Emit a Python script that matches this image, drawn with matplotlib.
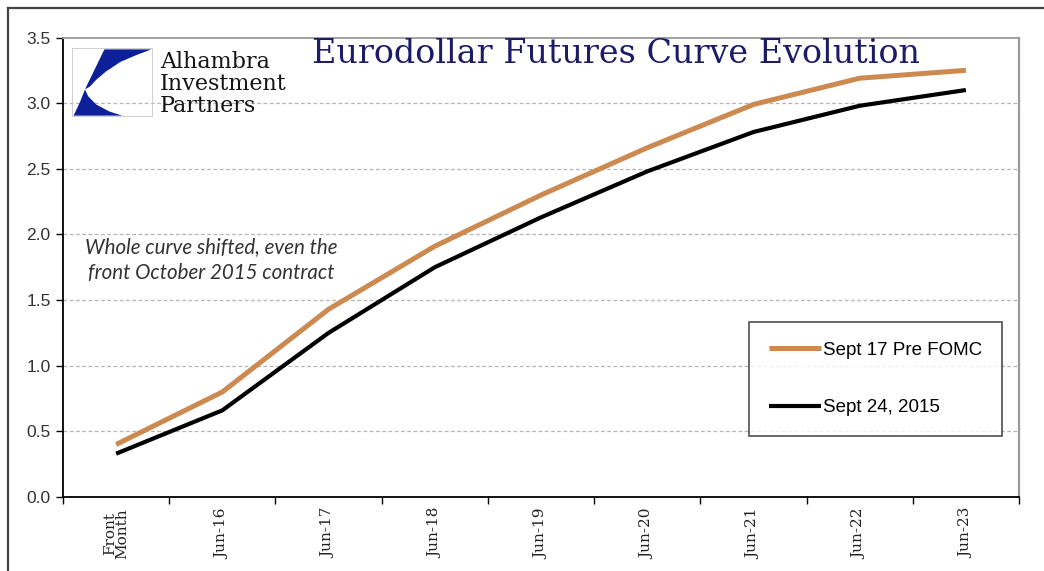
import numpy as np
import matplotlib
matplotlib.use("Agg")
import matplotlib.pyplot as plt
from matplotlib.lines import Line2D
from matplotlib.patches import Polygon, Rectangle

# Eurodollar futures implied rates (%) by contract
contracts = ["Front\nMonth", "Jun-16", "Jun-17", "Jun-18", "Jun-19",
             "Jun-20", "Jun-21", "Jun-22", "Jun-23"]
pre_fomc = [0.40, 0.80, 1.43, 1.91, 2.30, 2.66, 2.99, 3.19, 3.25]
sept_24 = [0.33, 0.66, 1.25, 1.75, 2.13, 2.48, 2.78, 2.98, 3.10]

ORANGE = "#cc8a50"
NAVY = "#1c1b68"

W, H = 1044, 571
fig = plt.figure(figsize=(W / 100, H / 100), dpi=100)
fig.patch.set_facecolor("white")


def px(x, y):
    """pixel position (from top-left) -> figure fraction"""
    return x / W, 1 - y / H


# outer frame (top and left edges only)
fig.add_artist(Line2D([8 / W, 1], [1 - 8 / H] * 2, color="#444444", lw=1.6))
fig.add_artist(Line2D([8 / W] * 2, [0, 1 - 8 / H], color="#444444", lw=1.6))

left, top = px(63, 37.5)
right, bottom = px(1019, 497)
ax = fig.add_axes([left, bottom, right - left, top - bottom])

x = np.arange(len(contracts))
ax.plot(x, pre_fomc, color=ORANGE, lw=3.6, label="Sept 17 Pre FOMC",
        solid_capstyle="butt", solid_joinstyle="miter")
ax.plot(x, sept_24, color="black", lw=3.0, label="Sept 24, 2015",
        solid_capstyle="butt", solid_joinstyle="miter")

ax.set_xlim(-0.5, len(contracts) - 0.5)
ax.set_ylim(0, 3.5)

# category axis: ticks between categories, labels centred on them
ax.set_xticks(np.arange(-0.5, len(contracts), 1))
ax.set_xticklabels([])
ax.set_xticks(x, minor=True)
ax.set_xticklabels(contracts, minor=True, rotation=90, va="top", ha="center",
                   family="DejaVu Serif", fontsize=11, linespacing=0.85,
                   color="#222222")
ax.tick_params(axis="x", which="major", direction="out", length=5, width=1)
ax.tick_params(axis="x", which="minor", length=0, pad=8)

ax.set_yticks(np.arange(0, 3.51, 0.5))
ax.set_yticklabels([f"{v:.1f}" for v in np.arange(0, 3.51, 0.5)],
                   family="Liberation Sans", fontsize=12.5, color="#333333")
ax.tick_params(axis="y", direction="out", length=5, width=1, pad=4)

for v in np.arange(0.5, 3.01, 0.5):
    ax.axhline(v, color="#b5b5b5", lw=0.9, ls=(0, (3, 2)), zorder=0)

ax.spines["left"].set_color("black")
ax.spines["bottom"].set_color("black")
ax.spines["left"].set_linewidth(1.3)
ax.spines["bottom"].set_linewidth(1.3)
ax.spines["top"].set_color("#9a9a9a")
ax.spines["right"].set_color("#9a9a9a")
ax.spines["top"].set_linewidth(1.3)
ax.spines["right"].set_linewidth(1.6)

leg = ax.legend(loc="upper left", bbox_to_anchor=px(749, 322),
                bbox_transform=fig.transFigure, frameon=True, fancybox=False,
                prop={"family": "Liberation Sans", "size": 13.5},
                labelspacing=2.15, handlelength=2.8, handletextpad=0.1,
                borderpad=1.05, borderaxespad=0)
leg.get_frame().set_edgecolor("#222222")
leg.get_frame().set_linewidth(1.2)

# annotation
fig.text(*px(211, 260), "Whole curve shifted, even the\nfront October 2015 contract",
         ha="center", va="center", family="Lato", style="italic",
         fontsize=14.8, color="#333333", linespacing=1.35)

# title
fig.text(*px(616, 63), "Eurodollar Futures Curve Evolution", ha="center",
         va="baseline", family="DejaVu Serif", fontsize=24, color=NAVY)

# logo mark
lx0, ly0 = px(72, 117)
lx1, ly1 = px(153, 48)
lax = fig.add_axes([lx0, ly0, lx1 - lx0, ly1 - ly0])
lax.set_xlim(0, 1)
lax.set_ylim(0, 1)
lax.axis("off")
lax.add_patch(Rectangle((0, 0), 1, 1, fill=False, edgecolor="#c8c8c8", lw=1.2))
upper = [(0.40, 0.98), (0.98, 0.98), (0.80, 0.90), (0.60, 0.80),
         (0.42, 0.66), (0.30, 0.54), (0.22, 0.44), (0.16, 0.40)]
lower = [(0.16, 0.40), (0.20, 0.30), (0.30, 0.18), (0.46, 0.08),
         (0.62, 0.02), (0.02, 0.02), (0.10, 0.22)]
lax.add_patch(Polygon(upper, closed=True, color="#0e1f9a", lw=0))
lax.add_patch(Polygon(lower, closed=True, color="#0e1f9a", lw=0))

fig.text(*px(160, 51), "Alhambra\nInvestment\nPartners", ha="left", va="top",
         family="DejaVu Serif", fontsize=16, color="#151515", linespacing=1.0)

fig.savefig("out.png", dpi=100)
